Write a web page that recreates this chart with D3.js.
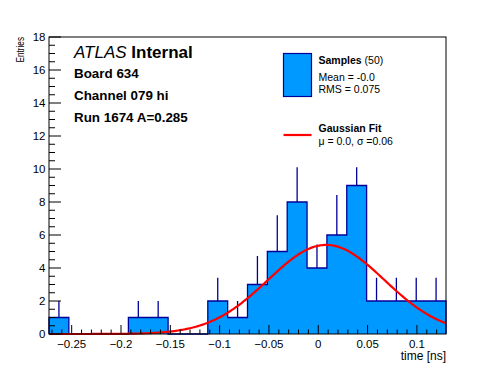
<!DOCTYPE html>
<html>
<head>
<meta charset="utf-8">
<script src="https://cdn.jsdelivr.net/npm/d3@7"></script>
<style>
  body { margin: 0; background: #fff; }
  text { font-family: "Liberation Sans", Arial, Helvetica, sans-serif; }
</style>
</head>
<body>
<svg id="chart" width="496" height="372"></svg>
<script>
'use strict';

// histogram: 20 equal bins between xMin and xMax
var xMin = -0.273, xMax = 0.1295;
var counts = [1, 0, 0, 0, 1, 1, 0, 0, 2, 1, 3, 5, 8, 4, 6, 9, 2, 2, 2, 2];
// upper end of the error bar
var errTop = [2, 0, 0, 0, 2, 2, 0, 0, 3.41, 2, 4.73, 7.2, 10.1, 5.43, 8.42, 10.1, 3.41, 3.41, 3.41, 3.41];
// gaussian fit parameters
var fitAmp = 5.4, fitMean = 0.008, fitSigma = 0.059;
var xTicks = [-0.25, -0.2, -0.15, -0.1, -0.05, 0, 0.05, 0.1];
var yTicks = [0, 2, 4, 6, 8, 10, 12, 14, 16, 18];
var infoLines = ['Board 634', 'Channel 079 hi', 'Run 1674 A=0.285'];

var fill = '#0099ff', navy = '#000099', red = '#ff0000';
var pLeft = 49, pRight = 446, pTop = 37, pBottom = 334;

var svg = d3.select('#chart');
var x = d3.scaleLinear().domain([xMin, xMax]).range([pLeft, pRight]);
var y = d3.scaleLinear().domain([0, 18]).range([pBottom, pTop]);

var bw = (xMax - xMin) / counts.length;
var bins = counts.map(function(c, i){
  return { x0: xMin + i*bw, x1: xMin + (i+1)*bw, n: c, e: errTop[i] };
});

// error bars (above bar tops)
svg.append('g').selectAll('line')
    .data(bins.filter(function(d){ return d.n > 0; }))
    .enter().append('line')
    .attr('x1', function(d){ return x((d.x0+d.x1)/2); })
    .attr('x2', function(d){ return x((d.x0+d.x1)/2); })
    .attr('y1', function(d){ return y(d.n); })
    .attr('y2', function(d){ return y(d.e); })
    .style('stroke', navy).style('stroke-width', 1.3);

// filled step histogram
var pts = [[xMin, 0]];
bins.forEach(function(d){ pts.push([d.x0, d.n]); pts.push([d.x1, d.n]); });
pts.push([xMax, 0]);
var step = d3.line().x(function(d){ return x(d[0]); }).y(function(d){ return y(d[1]); });

svg.append('path')
    .attr('d', step(pts) + 'Z')
    .style('fill', fill).style('stroke', 'none');
svg.append('path')
    .attr('d', step(pts))
    .style('fill', 'none').style('stroke', navy).style('stroke-width', 1.3);

// gaussian fit curve
var fx = d3.range(0, 201).map(function(i){ return xMin + (xMax - xMin)*i/200; });
svg.append('path')
    .attr('d', d3.line()
      .x(function(d){ return x(d); })
      .y(function(d){ return y(fitAmp*Math.exp(-Math.pow(d-fitMean,2)/(2*fitSigma*fitSigma))); })(fx))
    .style('fill', 'none').style('stroke', red).style('stroke-width', 2.2);

// frame
svg.append('rect')
    .attr('x', pLeft).attr('y', pTop)
    .attr('width', pRight-pLeft).attr('height', pBottom-pTop)
    .style('fill', 'none').style('stroke', '#000').style('stroke-width', 1);

// x ticks
var xMinor = d3.range(-27, 13).map(function(k){ return k/100; });
svg.append('g').selectAll('line').data(xMinor).enter().append('line')
    .attr('x1', function(d){ return x(d); }).attr('x2', function(d){ return x(d); })
    .attr('y1', pBottom).attr('y2', function(d){ return pBottom - (Math.abs(Math.round(d*100)) % 5 === 0 ? 9 : 4.5); })
    .style('stroke', '#000');
svg.append('g').selectAll('text').data(xTicks).enter().append('text')
    .attr('x', function(d){ return x(d); }).attr('y', 347.5)
    .style('font-size', '11.5px').style('text-anchor', 'middle')
    .text(function(d){ return d3.format('')(d).replace('-', '\u2212'); });

// y ticks
var yMinor = d3.range(0, 37).map(function(k){ return k/2; });
svg.append('g').selectAll('line').data(yMinor).enter().append('line')
    .attr('y1', function(d){ return y(d); }).attr('y2', function(d){ return y(d); })
    .attr('x1', pLeft).attr('x2', function(d){ return pLeft + (d % 2 === 0 ? 12 : 6); })
    .style('stroke', '#000');
svg.append('g').selectAll('text').data(yTicks).enter().append('text')
    .attr('x', 45.5).attr('y', function(d){ return y(d); })
    .attr('dy', '0.36em')
    .style('font-size', '11.5px').style('text-anchor', 'end')
    .text(function(d){ return d; });

// axis titles
svg.append('text')
    .attr('x', pRight).attr('y', 360)
    .style('font-size', '12px').style('text-anchor', 'end')
    .text('time [ns]');
svg.append('text')
    .attr('transform', 'translate(24,' + pTop + ') rotate(-90)')
    .attr('textLength', 25.5).attr('lengthAdjust', 'spacingAndGlyphs')
    .style('font-size', '10.5px').style('text-anchor', 'end')
    .text('Entries');

// ATLAS label
var atl = svg.append('text').attr('x', 74).attr('y', 58).style('font-size', '17px');
atl.append('tspan').style('font-style', 'italic').text('ATLAS');
atl.append('tspan').style('font-weight', 'bold').text(' Internal');
infoLines.forEach(function(s, i){
  svg.append('text')
      .attr('x', 74).attr('y', 78.3 + i*21.7)
      .style('font-size', '13.4px').style('font-weight', 'bold')
      .text(s);
});

// legend
svg.append('rect')
    .attr('x', 283.5).attr('y', 53.5).attr('width', 28).attr('height', 43)
    .style('fill', fill).style('stroke', navy).style('stroke-width', 1.2);
var l1 = svg.append('text').attr('x', 318.5).attr('y', 63.5).style('font-size', '10.5px');
l1.append('tspan').style('font-weight', 'bold').text('Samples');
l1.append('tspan').text(' (50)');
svg.append('text').attr('x', 318.5).attr('y', 80.7).style('font-size', '10.5px').text('Mean = -0.0');
svg.append('text').attr('x', 318.5).attr('y', 93.3).style('font-size', '10.5px').text('RMS = 0.075');

svg.append('line')
    .attr('x1', 283.5).attr('x2', 311.5).attr('y1', 135).attr('y2', 135)
    .style('stroke', red).style('stroke-width', 2.2);
svg.append('text').attr('x', 318.5).attr('y', 132.3)
    .style('font-size', '10.5px').style('font-weight', 'bold').text('Gaussian Fit');
svg.append('text').attr('x', 318.5).attr('y', 145)
    .style('font-size', '10.5px').text('\u03bc = 0.0, \u03c3 =0.06');
</script>
</body>
</html>
